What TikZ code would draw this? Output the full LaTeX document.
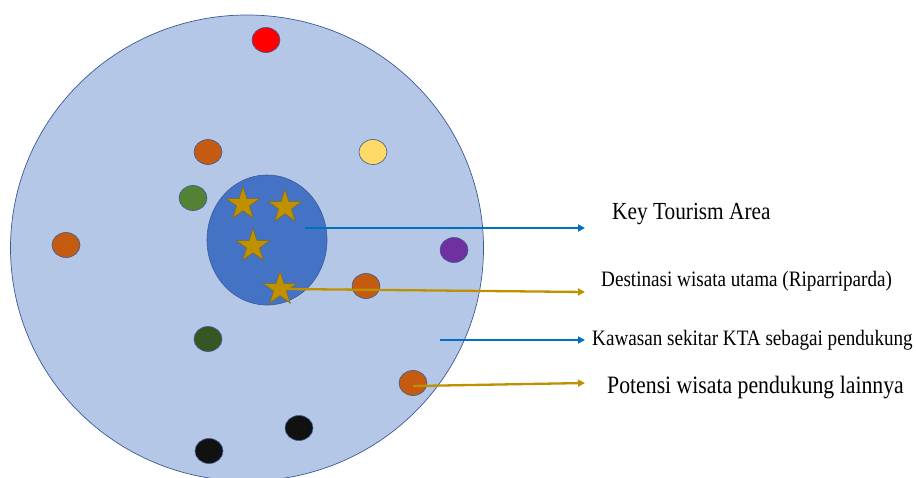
\documentclass[tikz,border=0pt]{standalone}
\usepackage{fontspec}
\setmainfont{Liberation Serif}
\newfontfamily\legendfont[FakeStretch=0.87]{Liberation Serif}
\usetikzlibrary{arrows.meta,positioning,shapes.geometric}

\definecolor{areafill}{HTML}{B4C7E7}
\definecolor{arealine}{HTML}{3A5A94}
\definecolor{corefill}{HTML}{4472C4}
\definecolor{stargold}{HTML}{BF9000}
\definecolor{starline}{HTML}{7F6A20}
\definecolor{arrowblue}{HTML}{0070C0}
\definecolor{spotred}{HTML}{FF0000}
\definecolor{spotorange}{HTML}{C55A11}
\definecolor{spotyellow}{HTML}{FFD966}
\definecolor{spotgreen}{HTML}{548235}
\definecolor{spotdark}{HTML}{375623}
\definecolor{spotpurple}{HTML}{7030A0}
\definecolor{spotblack}{HTML}{111111}

\begin{document}
\begin{tikzpicture}[
  x=1pt, y=-1pt,
  spot/.style={draw=arealine, ellipse, line width=0.6pt, minimum width=28pt, minimum height=25pt, inner sep=0pt},
  mainstar/.style={draw=starline, fill=stargold, star, star points=5, star point ratio=2.6, minimum size=35pt, inner sep=0pt, line width=0.6pt},
  bluearrow/.style={-{Triangle[length=7pt,width=7pt]}, line width=2.3pt, draw=arrowblue, fill=arrowblue},
  goldarrow/.style={-{Triangle[length=7pt,width=7pt]}, line width=2.3pt, draw=stargold, fill=stargold},
  legend/.style={anchor=west, inner sep=0pt}
]
\useasboundingbox (0,0) rectangle (916,477);
\clip (0,0) rectangle (916,477);

% surrounding area and key tourism area
\node[draw=arealine, fill=areafill, ellipse, minimum width=473pt, minimum height=466pt, line width=0.7pt] (region) at (247,248) {};
\node[draw=arealine, fill=corefill, ellipse, minimum width=120pt, minimum height=130pt, line width=0.6pt] (core) at (267,240) {};

% supporting spots
\node[spot, fill=spotred] (red) at (266,40) {};
\node[spot, fill=spotorange] (orangeA) at (208,152) {};
\node[spot, fill=spotyellow] (yellow) at (373,152) {};
\node[spot, fill=spotgreen] (green) at (193,198) {};
\node[spot, fill=spotorange] (orangeB) at (66,245) {};
\node[spot, fill=spotpurple] (purple) at (454,250) {};
\node[spot, fill=spotorange] (orangeC) at (366,286) {};
\node[spot, fill=spotdark] (darkgreen) at (208,339) {};
\node[spot, fill=spotorange] (orangeD) at (413,383) {};
\node[spot, fill=spotblack] (blackA) at (299,428) {};
\node[spot, fill=spotblack] (blackB) at (209,451) {};

% main destinations
\node[mainstar] (starA) at (243,204) {};
\node[mainstar] (starB) at (285,207) {};
\node[mainstar] (starC) at (253,246) {};
\node[mainstar] (starD) at (280,289) {};

% arrow ends
\coordinate (ktafrom) at (305,228);
\coordinate (ktato) at (585,228);
\coordinate (destto) at (585,292);
\coordinate (ringfrom) at (440,340);
\coordinate (ringto) at (585,340);
\coordinate (potto) at (585,383);

\node[legend, font=\legendfont\fontsize{24.5}{28}\selectfont] (ktalabel) at (612,214) {Key Tourism Area};
\node[legend, font=\legendfont\fontsize{22}{26}\selectfont] (destlabel) at (601,281) {Destinasi wisata utama (Riparriparda)};
\node[legend, font=\legendfont\fontsize{22}{26}\selectfont] (ringlabel) at (592,340) {Kawasan sekitar KTA sebagai pendukung};
\node[legend, font=\legendfont\fontsize{25}{29}\selectfont] (potlabel) at (607,388) {Potensi wisata pendukung lainnya};

\draw[bluearrow] (ktafrom) -- (ktato);
\draw[goldarrow] (starD.center) ++(8,0) -- (destto);
\draw[bluearrow] (ringfrom) -- (ringto);
\draw[goldarrow] (orangeD.center) ++(0,3) -- (potto);
\end{tikzpicture}
\end{document}
